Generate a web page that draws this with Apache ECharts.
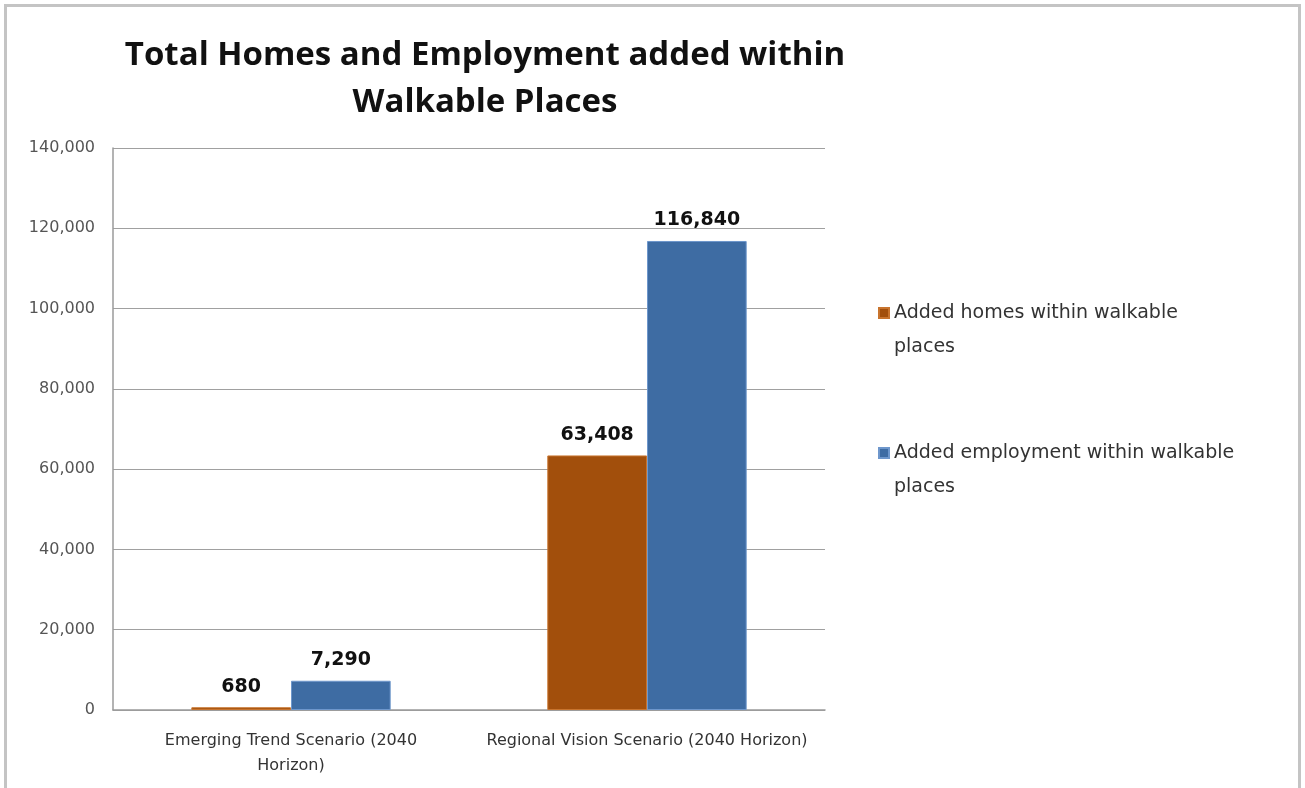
<!DOCTYPE html>
<html>
<head>
<meta charset="utf-8">
<script src="https://cdn.jsdelivr.net/npm/echarts@6/dist/echarts.min.js"></script>
<style>
  html, body { margin: 0; padding: 0; background: #fff; }
  #container { width: 1305px; height: 788px; }
  #frame { position: absolute; left: 4px; top: 4px; width: 1291px; height: 800px;
           border: 3px solid #c4c4c4; pointer-events: none; }
</style>
</head>
<body>
<div id="container"></div>
<div id="frame"></div>
<script>
// data
var categories = ['Emerging Trend Scenario (2040\nHorizon)', 'Regional Vision Scenario (2040 Horizon)'];
var seriesNames = ['Added homes within walkable places', 'Added employment within walkable places'];
var homes = [680, 63408];
var employment = [7290, 116840];
var yTicks = { min: 0, max: 140000, interval: 20000 };

var chart = echarts.init(document.getElementById('container'));

var labelStyle = {
    show: true,
    position: 'top',
    distance: 11,
    color: '#111',
    fontSize: 19,
    fontWeight: 'bold',
    fontFamily: 'DejaVu Sans',
    formatter: function (p) { return p.value.toLocaleString('en-US'); }
};

var option = {
    animation: false,
    title: {      // title
        text: 'Total Homes and Employment added within\nWalkable Places',
        left: 480,
        top: 27,
        textAlign: 'center',
        textStyle: { fontFamily: 'Open Sans', fontWeight: 'bold', fontSize: 33, lineHeight: 47, color: '#111' }
    },
    legend: {     // legend on the right, icon next to first line
        data: seriesNames,
        orient: 'vertical',
        left: 873,
        top: 257,
        itemWidth: 10,
        itemHeight: 10,
        itemGap: 38,
        icon: 'rect',
        formatter: function (name) { return '\n' + name.replace(' places', '\nplaces'); },
        textStyle: { fontFamily: 'DejaVu Sans', fontSize: 19, color: '#333', lineHeight: 34 }
    },
    grid: { left: 113, right: 480, top: 148, bottom: 78 },
    xAxis: {
        type: 'category',
        data: categories,
        axisTick: { show: false },
        axisLine: { lineStyle: { color: '#9a9a9a', width: 1.5 } },
        axisLabel: { interval: 0, hideOverlap: false, color: '#333', fontFamily: 'DejaVu Sans', fontSize: 16, lineHeight: 25, margin: 18 }
    },
    yAxis: {
        type: 'value',
        min: yTicks.min,
        max: yTicks.max,
        interval: yTicks.interval,
        axisLine: { show: true, lineStyle: { color: '#9a9a9a', width: 1.5 } },
        axisTick: { show: false },
        splitLine: { lineStyle: { color: '#a0a0a0', width: 1 } },
        axisLabel: {
            color: '#555', fontFamily: 'DejaVu Sans', fontSize: 16, margin: 18,
            formatter: function (v) { return v.toLocaleString('en-US'); }
        }
    },
    series: [
        {
            name: seriesNames[0], type: 'bar', data: homes,
            barGap: '0%', barCategoryGap: '44%',
            itemStyle: { color: '#a24f0c', borderColor: '#c8742e', borderWidth: 1 },
            label: labelStyle
        },
        {
            name: seriesNames[1], type: 'bar', data: employment,
            itemStyle: { color: '#3e6ca3', borderColor: '#6e97cc', borderWidth: 1 },
            label: labelStyle
        }
    ]
};

chart.setOption(option);
</script>
</body>
</html>
